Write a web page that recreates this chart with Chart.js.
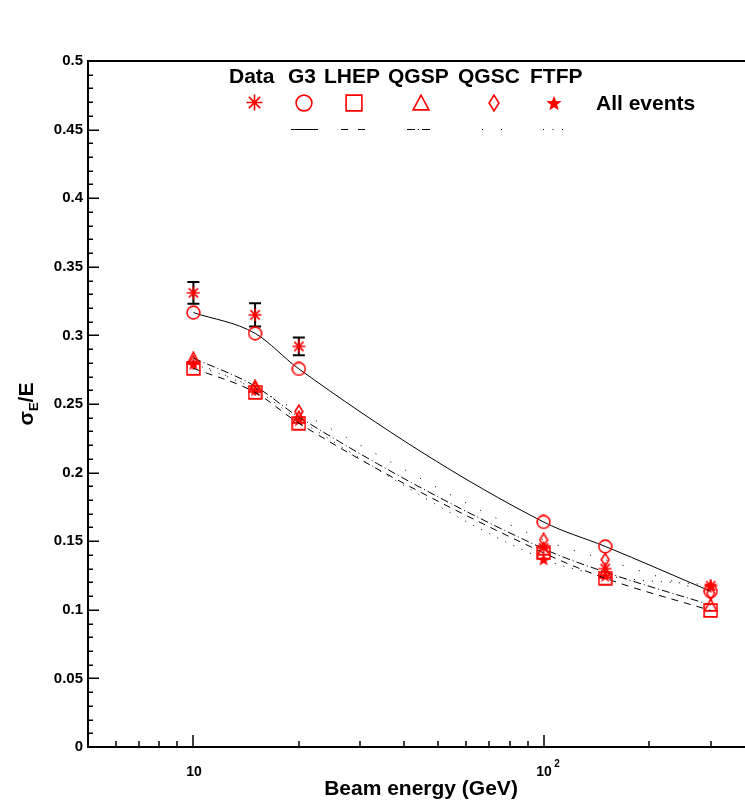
<!DOCTYPE html>
<html><head><meta charset="utf-8">
<script src="https://cdn.jsdelivr.net/npm/chart.js@4.4.0/dist/chart.umd.min.js"></script>
<style>html,body{margin:0;padding:0;background:#fff;overflow:hidden}#wrap{width:745px;height:803px;position:relative}</style>
</head><body><div id="wrap"><canvas id="c" width="745" height="803"></canvas></div>
<script>
// ---- data ----
const energies   = [10, 15, 20, 100, 150, 300];
const dataValues = [0.3310, 0.3150, 0.2920, 0.1450, 0.1300, 0.1175];
const dataErrors = [0.0080, 0.0085, 0.0065, 0, 0, 0];
const g3Values   = [0.3166, 0.3015, 0.2756, 0.1640, 0.1462, 0.1135];
const lhepValues = [0.2760, 0.2585, 0.2360, 0.1415, 0.1230, 0.0995];
const qgspValues = [0.2835, 0.2630, 0.2405, 0.1445, 0.1275, 0.1035];
const qgscValues = [0.2805, 0.2615, 0.2445, 0.1510, 0.1365, 0.1120];
const ftfpValues = [0.2795, 0.2605, 0.2385, 0.1370, 0.1250, 0.1180];
const seriesNames = ['Data', 'G3', 'LHEP', 'QGSP', 'QGSC', 'FTFP'];
const allEventsLabel = 'All events';
const xMajorTicks = [10, 100];
const xMinorTicks = [6, 7, 8, 9, 20, 30, 40, 50, 60, 70, 80, 90, 200, 300];
const xMajorLabels = ['10', '10|2'];
const xTitle = 'Beam energy (GeV)';
const yMin = 0, yMax = 0.5, yMajorStep = 0.05, yMinorStep = 0.01;

const FONT = '"Liberation Sans", Arial, Helvetica, sans-serif';
const RED = '#ff0000';

function makeMarker(kind, w, h, lw) {
  const c = document.createElement('canvas');
  c.width = w; c.height = h;
  const g = c.getContext('2d');
  g.strokeStyle = RED; g.fillStyle = RED; g.lineWidth = lw;
  const mx = w / 2, my = h / 2;
  g.beginPath();
  if (kind === 'asterisk') {
    const r = Math.min(w, h) / 2 - 0.5;
    for (let k = 0; k < 4; k++) {
      const a = k * Math.PI / 4;
      g.moveTo(mx - r * Math.cos(a), my - r * Math.sin(a));
      g.lineTo(mx + r * Math.cos(a), my + r * Math.sin(a));
    }
    g.stroke();
    g.beginPath(); g.arc(mx, my, 1.6, 0, 2 * Math.PI); g.fill();
  } else if (kind === 'circle') {
    g.arc(mx, my, Math.min(w, h) / 2 - lw / 2 - 0.3, 0, 2 * Math.PI); g.stroke();
  } else if (kind === 'square') {
    g.rect(lw / 2 + 0.3, lw / 2 + 0.3, w - lw - 0.6, h - lw - 0.6); g.stroke();
  } else if (kind === 'triangle') {
    g.moveTo(mx, lw / 2 + 0.3); g.lineTo(w - lw / 2 - 0.3, h - lw / 2 - 0.3); g.lineTo(lw / 2 + 0.3, h - lw / 2 - 0.3); g.closePath(); g.stroke();
  } else if (kind === 'diamond') {
    g.moveTo(mx, lw / 2 + 0.3); g.lineTo(w - lw / 2 - 0.3, my); g.lineTo(mx, h - lw / 2 - 0.3); g.lineTo(lw / 2 + 0.3, my); g.closePath(); g.stroke();
  } else if (kind === 'star') {
    const R = Math.min(w, h) / 2, r = R * 0.42;
    for (let k = 0; k < 10; k++) {
      const rr = k % 2 ? r : R;
      const a = -Math.PI / 2 + k * Math.PI / 5;
      const px = mx + rr * Math.cos(a), py = my + 0.8 + rr * Math.sin(a);
      if (k === 0) g.moveTo(px, py); else g.lineTo(px, py);
    }
    g.closePath(); g.fill();
  }
  return c;
}

const plotMarkers = {
  asterisk: makeMarker('asterisk', 14, 14, 1.6),
  circle: makeMarker('circle', 15, 15, 1.6),
  square: makeMarker('square', 15, 15, 1.6),
  triangle: makeMarker('triangle', 14, 14, 1.6),
  diamond: makeMarker('diamond', 10, 15, 1.6),
  star: makeMarker('star', 14, 14, 1)
};
const legendMarkers = [
  makeMarker('asterisk', 17, 17, 1.6),
  makeMarker('circle', 18, 18, 1.6),
  makeMarker('square', 18, 18, 1.6),
  makeMarker('triangle', 18, 17, 1.6),
  makeMarker('diamond', 12, 18, 1.6),
  makeMarker('star', 16, 16, 1)
];

function pts(vals) { return energies.map((e, i) => ({ x: e, y: vals[i] })); }

function lineDs(label, vals, marker, dash) {
  return {
    label, data: pts(vals), showLine: true, borderColor: '#000', borderWidth: 1,
    borderDash: dash, cubicInterpolationMode: 'monotone', pointStyle: marker, pointRadius: 7,
    pointBackgroundColor: RED, pointBorderColor: RED, fill: false
  };
}

const datasets = [
  { label: 'Data', data: pts(dataValues), showLine: false, pointStyle: plotMarkers.asterisk, pointRadius: 7 },
  lineDs('G3', g3Values, plotMarkers.circle, []),
  lineDs('LHEP', lhepValues, plotMarkers.square, [7, 6]),
  lineDs('QGSP', qgspValues, plotMarkers.triangle, [8, 3, 1, 3]),
  lineDs('QGSC', qgscValues, plotMarkers.diamond, [1, 16]),
  lineDs('FTFP', ftfpValues, plotMarkers.star, [1, 8])
];

const decorPlugin = {
  id: 'decor',
  beforeDatasetsDraw(chart) {
    const ctx = chart.ctx, xs = chart.scales.x, ys = chart.scales.y;
    ctx.save();
    ctx.strokeStyle = '#000'; ctx.lineWidth = 2;
    energies.forEach((e, i) => {
      if (!dataErrors[i]) return;
      const x = xs.getPixelForValue(e);
      const y1 = ys.getPixelForValue(dataValues[i] + dataErrors[i]);
      const y2 = ys.getPixelForValue(dataValues[i] - dataErrors[i]);
      ctx.beginPath();
      ctx.moveTo(x, y1); ctx.lineTo(x, y2);
      ctx.moveTo(x - 6, y1); ctx.lineTo(x + 6, y1);
      ctx.moveTo(x - 6, y2); ctx.lineTo(x + 6, y2);
      ctx.stroke();
    });
    ctx.restore();
  },
  afterDraw(chart) {
    const ctx = chart.ctx, a = chart.chartArea, xs = chart.scales.x, ys = chart.scales.y;
    ctx.save();
    ctx.strokeStyle = '#000'; ctx.fillStyle = '#000';
    // frame
    ctx.lineWidth = 2;
    ctx.beginPath();
    ctx.moveTo(a.left, a.top); ctx.lineTo(a.right, a.top);
    ctx.moveTo(a.left, a.top - 1); ctx.lineTo(a.left, a.bottom);
    ctx.moveTo(a.left - 1, a.bottom); ctx.lineTo(a.right, a.bottom);
    ctx.stroke();
    // y ticks (inward)
    ctx.lineWidth = 1.5;
    ctx.beginPath();
    const nMinor = Math.round((yMax - yMin) / yMinorStep);
    const per = Math.round(yMajorStep / yMinorStep);
    for (let k = 0; k <= nMinor; k++) {
      const y = Math.round(ys.getPixelForValue(yMin + k * yMinorStep)) + 0.25;
      const len = (k % per === 0) ? 11 : 5;
      ctx.moveTo(a.left, y); ctx.lineTo(a.left + len, y);
    }
    // x ticks (inward)
    xMajorTicks.forEach(v => { const x = Math.round(xs.getPixelForValue(v)); ctx.moveTo(x, a.bottom); ctx.lineTo(x, a.bottom - 12); });
    xMinorTicks.forEach(v => { const x = Math.round(xs.getPixelForValue(v)); ctx.moveTo(x, a.bottom); ctx.lineTo(x, a.bottom - 6); });
    ctx.stroke();
    // x labels
    ctx.textBaseline = 'alphabetic';
    xMajorTicks.forEach((v, i) => {
      const x = xs.getPixelForValue(v);
      const parts = xMajorLabels[i].split('|');
      ctx.font = 'bold 14px ' + FONT;
      ctx.textAlign = 'center';
      ctx.fillText(parts[0], x + 0.5, a.bottom + 29);
      if (parts[1]) {
        const w = ctx.measureText(parts[0]).width;
        ctx.font = 'bold 10px ' + FONT;
        ctx.textAlign = 'left';
        ctx.fillText(parts[1], x + w / 2 + 3, a.bottom + 20);
      }
    });
    // x title
    ctx.font = 'bold 21px ' + FONT;
    ctx.textAlign = 'center';
    ctx.fillText(xTitle, 421, 795);
    // y title: sigma_E / E
    ctx.save();
    ctx.translate(33, 404);
    ctx.rotate(-Math.PI / 2);
    ctx.textAlign = 'left';
    ctx.font = 'bold 21px ' + FONT;
    const ws = ctx.measureText('\u03c3').width;
    ctx.font = 'bold 13px ' + FONT;
    const wsub = ctx.measureText('E').width;
    ctx.font = 'bold 21px ' + FONT;
    const wr = ctx.measureText('/E').width;
    let x0 = -(ws + wsub + wr) / 2;
    ctx.fillText('\u03c3', x0, 0);
    ctx.font = 'bold 13px ' + FONT;
    ctx.fillText('E', x0 + ws, 5);
    ctx.font = 'bold 21px ' + FONT;
    ctx.fillText('/E', x0 + ws + wsub, 0);
    ctx.restore();
    // legend
    const nameX = [229, 288, 324, 388, 458, 530];
    ctx.font = 'bold 21px ' + FONT;
    ctx.textAlign = 'left';
    seriesNames.forEach((n, i) => ctx.fillText(n, nameX[i], 83));
    const markX = [254, 304, 354, 420.5, 494, 554];
    legendMarkers.forEach((m, i) => ctx.drawImage(m, Math.round(markX[i] - m.width / 2), Math.round(102.5 - m.height / 2)));
    ctx.fillText(allEventsLabel, 596, 110);
    const lineSeg = [[291, 318, []], [341, 366, [7, 10]], [407, 432, [8, 3, 1, 3]], [482, 504, [1, 18]], [543, 566, [1, 8.5]]];
    ctx.lineWidth = 1;
    lineSeg.forEach(([x1, x2, d]) => {
      ctx.setLineDash(d);
      ctx.beginPath(); ctx.moveTo(x1, 129.5); ctx.lineTo(x2, 129.5); ctx.stroke();
    });
    ctx.setLineDash([]);
    ctx.restore();
  }
};

new Chart(document.getElementById('c'), {
  type: 'scatter',
  data: { datasets },
  options: {
    responsive: false, animation: false, events: [], devicePixelRatio: 1,
    layout: { autoPadding: false, padding: { top: 61, left: 0, right: 0, bottom: 0 } },
    plugins: { legend: { display: false }, tooltip: { enabled: false } },
    scales: {
      x: {
        type: 'logarithmic', min: 5, max: 376,
        grid: { display: false, drawTicks: false }, border: { display: false },
        ticks: { display: false },
        afterFit(s) { s.height = 56; }
      },
      y: {
        type: 'linear', min: yMin, max: yMax,
        grid: { display: false, drawTicks: false }, border: { display: false },
        ticks: {
          stepSize: yMajorStep, padding: 5, color: '#000',
          font: { family: FONT, weight: 'bold', size: 15 },
          callback: v => String(Number(v.toFixed(2)))
        },
        afterFit(s) { s.width = 88; }
      }
    }
  },
  plugins: [decorPlugin]
});
</script>
</body></html>
